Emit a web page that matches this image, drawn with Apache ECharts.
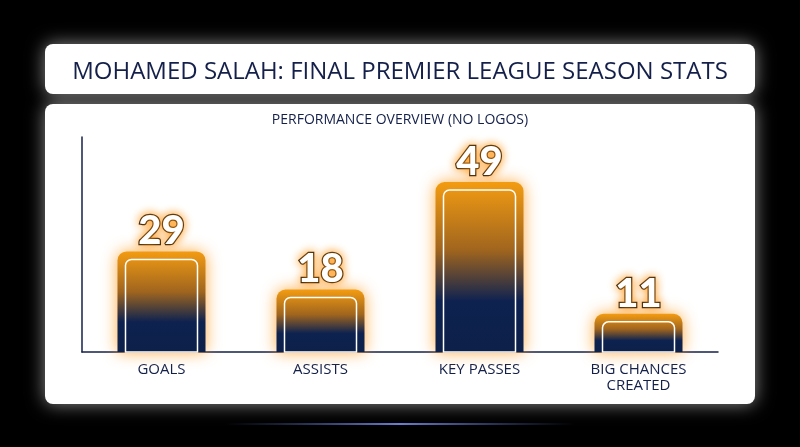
<!DOCTYPE html>
<html><head><meta charset="utf-8">
<script src="https://cdn.jsdelivr.net/npm/echarts@6/dist/echarts.min.js"></script>
<style>html,body{margin:0;padding:0;background:#000;}#c{width:800px;height:447px;}</style>
</head><body><div id="c"></div>
<script>
const categories = ['GOALS', 'ASSISTS', 'KEY PASSES', 'BIG CHANCES\nCREATED'];
const values = [29, 18, 49, 11];
const navy = '#14204a';
const chart = echarts.init(document.getElementById('c'));
const glow = {shadowBlur: 18, shadowColor: 'rgba(255,255,255,0.55)'};
chart.setOption({
  backgroundColor: '#000',
  graphic: [
    {type: 'rect', shape: {x: 45, y: 44, width: 710, height: 50, r: 8}, style: Object.assign({fill: '#fff'}, glow), z: -10},
    {type: 'rect', shape: {x: 45, y: 104, width: 710, height: 300, r: 8}, style: Object.assign({fill: '#fff'}, glow), z: -10},
    {type: 'text', x: 400, y: 72, style: {text: 'MOHAMED SALAH: FINAL PREMIER LEAGUE SEASON STATS', fill: navy, font: '500 24px "Open Sans", sans-serif', align: 'center', verticalAlign: 'middle'}},
    {type: 'text', x: 400, y: 120, style: {text: 'PERFORMANCE OVERVIEW (NO LOGOS)', fill: navy, font: '14px "Open Sans", sans-serif', align: 'center', verticalAlign: 'middle'}},
    {type: 'rect', shape: {x: 225, y: 423, width: 350, height: 2}, style: {fill: new echarts.graphic.LinearGradient(0,0,1,0,[{offset:0,color:'rgba(80,100,180,0)'},{offset:0.5,color:'rgba(120,140,230,0.9)'},{offset:1,color:'rgba(80,100,180,0)'}])}}
  ],
  grid: {left: 82, right: 82, top: 137, bottom: 95},
  xAxis: {type: 'category', data: categories,
    axisLine: {lineStyle: {color: navy, width: 1.5}}, axisTick: {show: false},
    axisLabel: {color: navy, fontSize: 15, fontWeight: 500, fontFamily: '"Open Sans", sans-serif', margin: 10, lineHeight: 16}},
  yAxis: {type: 'value', min: 0, max: 62, splitLine: {show: false}, axisLabel: {show: false},
    axisLine: {show: true, lineStyle: {color: navy, width: 1.5}}, axisTick: {show: false}},
  series: [
    {type: 'bar', data: values, barWidth: 88,
      itemStyle: {borderRadius: [9, 9, 0, 0], shadowBlur: 16, shadowColor: 'rgba(255,150,20,0.8)',
        color: new echarts.graphic.LinearGradient(0, 0, 0, 1, [{offset: 0, color: '#f39c12'}, {offset: 0.4, color: '#a0651e'}, {offset: 0.7, color: '#0e2250'}, {offset: 1, color: '#0c2049'}])},
      label: {show: true, position: 'top', distance: 0, color: '#fff', fontSize: 40, fontWeight: 900, fontFamily: 'Lato, sans-serif',
        textBorderColor: '#2a1a08', textBorderWidth: 2.5, textShadowBlur: 10, textShadowColor: 'rgba(255,150,20,0.9)'}},
    {type: 'custom', data: values.map((v, i) => [i, v]), z: 5, silent: true,
      renderItem: function (params, api) {
        const top = api.coord([api.value(0), api.value(1)]);
        const base = api.coord([api.value(0), 0]);
        return {type: 'rect', shape: {x: top[0] - 36, y: top[1] + 8, width: 72, height: base[1] - top[1] - 8, r: [6, 6, 0, 0]},
          style: {fill: 'none', stroke: '#fff', lineWidth: 1.5}};
      }}
  ]
});
</script></body></html>
